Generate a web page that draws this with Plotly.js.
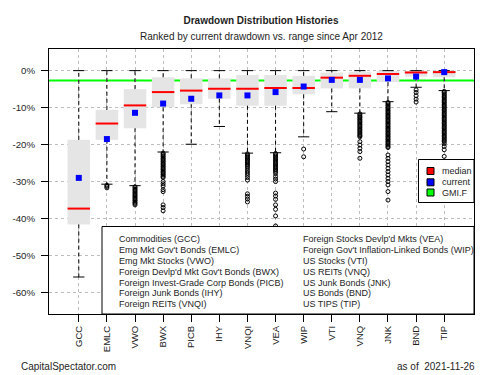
<!DOCTYPE html>
<html>
<head>
<meta charset="utf-8">
<script src="https://cdn.plot.ly/plotly-3.0.1.min.js"></script>
<style>html,body{margin:0;padding:0;background:#fff;}#chart{width:500px;height:375px;}</style>
</head>
<body>
<div id="chart"></div>
<script>
// ---------- data ----------
const cats = ["GCC","EMLC","VWO","BWX","PICB","IHY","VNQI","VEA","WIP","VTI","VNQ","JNK","BND","TIP"];
const fullNames = [
  "Commodities (GCC)",
  "Emg Mkt Gov't Bonds (EMLC)",
  "Emg Mkt Stocks (VWO)",
  "Foreign Devlp'd Mkt Gov't Bonds (BWX)",
  "Foreign Invest-Grade Corp Bonds (PICB)",
  "Foreign Junk Bonds (IHY)",
  "Foreign REITs (VNQI)",
  "Foreign Stocks Devlp'd Mkts (VEA)",
  "Foreign Gov't Inflation-Linked Bonds (WIP)",
  "US Stocks (VTI)",
  "US REITs (VNQ)",
  "US Junk Bonds (JNK)",
  "US Bonds (BND)",
  "US TIPS (TIP)"
];
const boxTop     = [-18.7, -10.6, -5.0, -1.8, -2.1, -2.1, -1.2, -1.2, -1.4, -0.5, -0.3, -0.1, -0.1, 0.0];
const boxBottom  = [-41.6, -18.7, -15.6, -9.9, -9.1, -7.6, -9.5, -9.5, -6.4, -4.8, -4.8, -3.1, -1.6, -1.8];
const medians    = [-37.3, -14.3, -9.4, -5.8, -5.4, -4.9, -4.9, -4.7, -4.7, -1.9, -1.4, -0.9, -0.5, -0.4];
const current    = [-29.0, -18.5, -11.4, -8.9, -7.6, -6.7, -6.7, -5.8, -4.3, -2.5, -2.5, -2.1, -1.6, -0.4];
const whiskerHigh = [0, 0, 0, 0, 0, 0, 0, 0, 0, 0, 0, 0, 0, 0];
const whiskerLow  = [-55.8, -30.7, -31.1, -22.0, -19.9, -15.1, -22.3, -22.2, -17.9, -11.1, -11.5, -8.4, -4.5, -5.4];

const outGCC  = [];
const outEMLC = [-31.0, -31.3, -31.7];
const outVWO  = [-31.4,-31.7,-32.1,-32.4,-32.8,-33.1,-33.5,-33.8,-34.2,-34.5,-34.9,-35.2,-35.6,-35.9,-36.3];
const outBWX  = [-22.3,-22.6,-23.0,-23.3,-23.7,-24.0,-24.4,-24.7,-25.1,-25.4,-25.8,-26.1,-26.5,-26.8,-27.2,-27.5,-27.9,-28.2,-28.6,-28.9,
                 -30.0,-30.6,-31.2,-32.2,-32.7,-36.3,-37.0,-37.9];
const outPICB = [];
const outIHY  = [];
const outVNQI = [-22.5,-22.8,-23.2,-23.5,-23.9,-24.2,-24.6,-24.9,-25.3,-25.6,-26.0,
                 -26.5,-27.1,-27.7,-28.3,-28.9,-29.6,-33.3,-34.0,-34.7,-35.5];
const outVEA  = [-22.4,-22.7,-23.1,-23.4,-23.8,-24.1,-24.5,-24.8,-25.2,-25.5,-25.9,-26.2,-26.6,-26.9,-27.3,
                 -27.8,-28.6,-29.3,-30.0,-33.1,-33.9,-34.8,-36.3,-37.5,-39.3,-42.0];
const outWIP  = [-21.2, -23.3];
const outVTI  = [];
const outVNQ  = [-11.7,-12.0,-12.4,-12.7,-13.1,-13.4,-13.8,-14.1,-14.5,-14.8,-15.2,-15.5,-15.9,-16.2,-16.6,-16.9,-17.3,-17.6,-17.9,
                 -19.2,-20.1,-21.0,-21.9,-23.7];
const outJNK  = [-8.6,-8.9,-9.3,-9.6,-10.0,-10.3,-10.7,-11.0,-11.4,-11.7,-12.1,-12.4,-12.8,-13.1,-13.5,-13.8,-14.2,-14.5,-14.9,-15.2,
                 -15.6,-15.9,-16.3,-16.6,-17.0,-17.3,-17.7,-18.0,-18.4,-18.7,-19.1,-19.4,-19.8,-20.1,-20.5,-20.8,
                 -22.8,-23.7,-24.6,-25.5,-26.4,-27.3,-28.2,-29.1,-30.0,-30.9,-32.7,-35.0];
const outBND  = [-5.2, -5.9, -6.8, -7.7, -8.5];
const outTIP  = [-5.6,-5.9,-6.3,-6.6,-7.0,-7.3,-7.7,-8.0,-8.4,-8.7,-9.1,-9.4,-9.8,-10.1,-10.5,-10.8,-11.2,-11.5,-11.9,-12.2,
                 -12.6,-12.9,-13.3,-13.6,-14.0,-14.3,-14.7,-15.0,-15.4,-15.7,-16.1,-16.4,-16.8,-17.1,-17.5,-17.8,-18.2,-18.5,-18.9,-19.2,
                 -19.7,-20.5,-21.4,-23.2];
const outliers = [outGCC,outEMLC,outVWO,outBWX,outPICB,outIHY,outVNQI,outVEA,outWIP,outVTI,outVNQ,outJNK,outBND,outTIP];

const gmiF = -2.7;
const yTickVals = [0, -10, -20, -30, -40, -50, -60];
const yTickText = ["0%", "-10%", "-20%", "-30%", "-40%", "-50%", "-60%"];

// ---------- build traces ----------
const idx = cats.map((c, i) => i);
const FONT = "Liberation Sans, Arial, Helvetica, sans-serif";
const TXT = "#1e1e1e";

const boxTrace = {
  type: "bar", x: idx, base: boxBottom, y: boxTop.map((t, i) => t - boxBottom[i]),
  width: 0.8, marker: {color: "#e5e5e5", line: {width: 0}}, hoverinfo: "skip", showlegend: false
};

const wx = [], wy = [];
idx.forEach(i => {
  wx.push(i, i, null, i, i, null);
  wy.push(boxTop[i], whiskerHigh[i], null, boxBottom[i], whiskerLow[i], null);
});
const whiskerTrace = {
  type: "scatter", mode: "lines", x: wx, y: wy,
  line: {color: "#000", width: 1, dash: "4px,3px"}, hoverinfo: "skip", showlegend: false
};

const cx = [], cy = [];
idx.forEach(i => {
  cx.push(i - 0.2, i + 0.2, null, i - 0.2, i + 0.2, null);
  cy.push(whiskerHigh[i], whiskerHigh[i], null, whiskerLow[i], whiskerLow[i], null);
});
const capTrace = {
  type: "scatter", mode: "lines", x: cx, y: cy,
  line: {color: "#000", width: 1}, hoverinfo: "skip", showlegend: false
};

const ox = [], oy = [];
outliers.forEach((arr, i) => arr.forEach(v => { ox.push(i); oy.push(v); }));
const outTrace = {
  type: "scatter", mode: "markers", x: ox, y: oy,
  marker: {symbol: "circle-open", size: 4, color: "#000", line: {width: 1, color: "#000"}},
  hoverinfo: "skip", showlegend: false
};

const mx = [], my = [];
idx.forEach(i => { mx.push(i - 0.4, i + 0.4, null); my.push(medians[i], medians[i], null); });
const medTrace = {
  type: "scatter", mode: "lines", x: mx, y: my,
  line: {color: "#ff0000", width: 2}, hoverinfo: "skip", showlegend: false
};

const curTrace = {
  type: "scatter", mode: "markers", x: idx, y: current,
  marker: {symbol: "square", size: 6, color: "#0000ff", line: {width: 0}},
  hoverinfo: "skip", showlegend: false
};

// ---------- layout helpers (pixel -> paper) ----------
const L = 49, R = 474, T = 49, B = 314;
const px = p => (p - L) / (R - L);
const py = p => (B - p) / (B - T);

const shapes = [
  {type: "line", xref: "paper", yref: "y", x0: 0, x1: 1, y0: gmiF, y1: gmiF,
   line: {color: "#00ff00", width: 2}, layer: "between"},
  // names box
  {type: "rect", xref: "paper", yref: "paper", x0: px(102), x1: 1, y0: 0, y1: py(226.5),
   fillcolor: "#ffffff", line: {color: "#000", width: 1}, layer: "above"},
  // key box
  {type: "rect", xref: "paper", yref: "paper", x0: px(418.5), x1: 1, y0: py(202.5), y1: py(159.5),
   fillcolor: "#ffffff", line: {color: "#000", width: 1}, layer: "above"}
];
const keyItems = [["median", "#ff0000", 171], ["current", "#0000ff", 182.3], ["GMI.F", "#00ff00", 192.5]];
const annotations = [];
keyItems.forEach(k => {
  shapes.push({type: "rect", xref: "paper", yref: "paper",
    x0: px(427), x1: px(434), y0: py(k[2] + 3.5), y1: py(k[2] - 3.5),
    fillcolor: k[1], line: {color: "#000", width: 1}, layer: "above"});
  annotations.push({xref: "paper", yref: "paper", x: px(440), y: py(k[2]), text: k[0],
    showarrow: false, xanchor: "left", yanchor: "middle", font: {family: FONT, size: 9, color: TXT}});
});

const rowY = [239.3, 250.1, 260.9, 271.7, 282.5, 293.3, 304.1];
fullNames.forEach((n, i) => {
  const col = i < 7 ? 0 : 1;
  const row = i % 7;
  annotations.push({xref: "paper", yref: "paper", x: px(col === 0 ? 117 : 301), y: py(rowY[row]),
    text: n, showarrow: false, xanchor: "left", yanchor: "middle",
    font: {family: FONT, size: 9, color: TXT}});
});

annotations.push({xref: "paper", yref: "paper", x: 0.5, y: py(36.7),
  text: "Ranked by current drawdown vs. range since Apr 2012", showarrow: false,
  xanchor: "center", yanchor: "middle", font: {family: FONT, size: 10, color: TXT}});
annotations.push({xref: "paper", yref: "paper", x: px(19), y: py(366.7),
  text: "CapitalSpectator.com", showarrow: false,
  xanchor: "left", yanchor: "middle", font: {family: FONT, size: 10, color: TXT}});
annotations.push({xref: "paper", yref: "paper", x: px(477), y: py(366.7),
  text: "as of  2021-11-26", showarrow: false,
  xanchor: "right", yanchor: "middle", font: {family: FONT, size: 10, color: TXT}});

const layout = {
  width: 500, height: 375,
  margin: {l: L, r: 500 - R, t: T, b: 375 - B, pad: 0},
  paper_bgcolor: "#ffffff", plot_bgcolor: "#ffffff",
  showlegend: false, hovermode: false,
  title: {text: "<b>Drawdown Distribution Histories</b>", x: px(261) * (R - L) / 500 + L / 500,
    xanchor: "center", y: 1 - 20 / 375, yanchor: "middle", yref: "container",
    font: {family: FONT, size: 10, color: TXT}},
  xaxis: {
    range: [-1.06, 14.06], tickmode: "array", tickvals: idx, ticktext: cats,
    tickangle: -90, ticks: "outside", ticklen: 7, tickcolor: "#000", tickwidth: 1,
    tickfont: {family: FONT, size: 9.5, color: TXT},
    showgrid: true, gridcolor: "#bdbdbd", griddash: "dot", gridwidth: 1,
    zeroline: false, showline: true, linecolor: "#000", linewidth: 1, mirror: true,
    fixedrange: true
  },
  yaxis: {
    range: [-65.8, 5.85], tickmode: "array", tickvals: yTickVals, ticktext: yTickText,
    ticks: "outside", ticklen: 7, tickcolor: "#000", tickwidth: 1, ticklabelstandoff: 4,
    tickfont: {family: FONT, size: 9.7, color: TXT},
    showgrid: true, gridcolor: "#bdbdbd", griddash: "dot", gridwidth: 1,
    zeroline: false, showline: true, linecolor: "#000", linewidth: 1, mirror: true,
    fixedrange: true
  },
  shapes: shapes,
  annotations: annotations
};

Plotly.newPlot("chart", [boxTrace, whiskerTrace, capTrace, outTrace, medTrace, curTrace], layout,
  {displayModeBar: false, staticPlot: true});
</script>
</body>
</html>
